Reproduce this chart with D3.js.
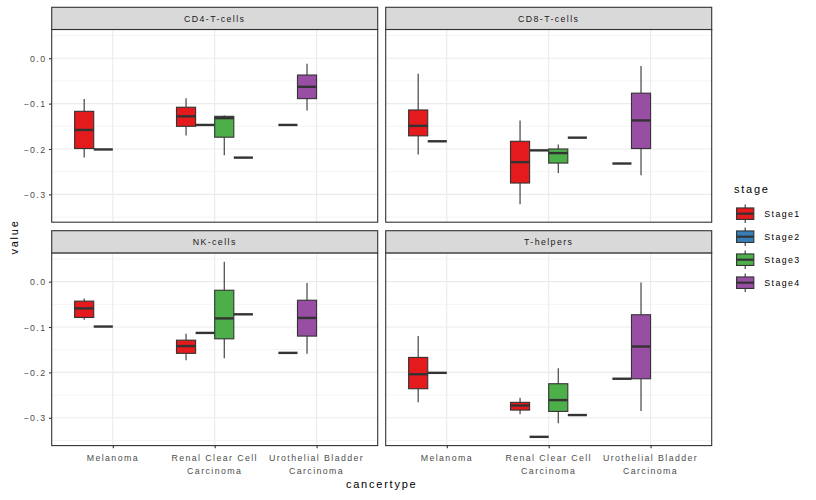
<!DOCTYPE html>
<html>
<head>
<meta charset="utf-8">
<script src="https://cdn.jsdelivr.net/npm/d3@7"></script>
<style>
  html, body { margin: 0; padding: 0; background: #fff; }
  svg { display: block; }
  text { font-family: "Liberation Sans", Arial, Helvetica, sans-serif; }
</style>
</head>
<body>
<svg id="chart" width="816" height="500"></svg>
<script>
// ---------------- data ----------------
const cellTypes = ["CD4-T-cells", "CD8-T-cells", "NK-cells", "T-helpers"];
const cancerTypes = ["Melanoma", "Renal Clear Cell Carcinoma", "Urothelial Bladder Carcinoma"];
const cancerTickLabels = [["Melanoma"], ["Renal Clear Cell", "Carcinoma"], ["Urothelial Bladder", "Carcinoma"]];
const stages = ["Stage1", "Stage2", "Stage3", "Stage4"];
const stageColors = ["#E41A1C", "#377EB8", "#4DAF4A", "#984EA3"];
const yTicks = [0.0, -0.1, -0.2, -0.3];
const yMinorTicks = [0.05, -0.05, -0.15, -0.25, -0.35];

// one entry per box (five-number summary)
const boxCell   = ["CD4-T-cells","CD4-T-cells","CD4-T-cells","CD4-T-cells","CD4-T-cells","CD4-T-cells","CD4-T-cells","CD4-T-cells",
                   "CD8-T-cells","CD8-T-cells","CD8-T-cells","CD8-T-cells","CD8-T-cells","CD8-T-cells","CD8-T-cells","CD8-T-cells",
                   "NK-cells","NK-cells","NK-cells","NK-cells","NK-cells","NK-cells","NK-cells","NK-cells",
                   "T-helpers","T-helpers","T-helpers","T-helpers","T-helpers","T-helpers","T-helpers","T-helpers"];
const boxCancer = ["Melanoma","Melanoma","Renal Clear Cell Carcinoma","Renal Clear Cell Carcinoma","Renal Clear Cell Carcinoma","Renal Clear Cell Carcinoma","Urothelial Bladder Carcinoma","Urothelial Bladder Carcinoma",
                   "Melanoma","Melanoma","Renal Clear Cell Carcinoma","Renal Clear Cell Carcinoma","Renal Clear Cell Carcinoma","Renal Clear Cell Carcinoma","Urothelial Bladder Carcinoma","Urothelial Bladder Carcinoma",
                   "Melanoma","Melanoma","Renal Clear Cell Carcinoma","Renal Clear Cell Carcinoma","Renal Clear Cell Carcinoma","Renal Clear Cell Carcinoma","Urothelial Bladder Carcinoma","Urothelial Bladder Carcinoma",
                   "Melanoma","Melanoma","Renal Clear Cell Carcinoma","Renal Clear Cell Carcinoma","Renal Clear Cell Carcinoma","Renal Clear Cell Carcinoma","Urothelial Bladder Carcinoma","Urothelial Bladder Carcinoma"];
const boxStage  = ["Stage1","Stage2","Stage1","Stage2","Stage3","Stage4","Stage2","Stage4",
                   "Stage1","Stage2","Stage1","Stage2","Stage3","Stage4","Stage2","Stage4",
                   "Stage1","Stage2","Stage1","Stage2","Stage3","Stage4","Stage2","Stage4",
                   "Stage1","Stage2","Stage1","Stage2","Stage3","Stage4","Stage2","Stage4"];
const boxLow    = [-0.219,-0.201,-0.170,-0.147,-0.214,-0.219,-0.147,-0.115,
                   -0.212,-0.183,-0.322,-0.203,-0.253,-0.175,-0.232,-0.258,
                   -0.084,-0.099,-0.173,-0.113,-0.169,-0.072,-0.157,-0.159,
                   -0.266,-0.201,-0.292,-0.342,-0.312,-0.294,-0.214,-0.285];
const boxQ1     = [-0.199,-0.201,-0.150,-0.147,-0.174,-0.219,-0.147,-0.089,
                   -0.171,-0.183,-0.275,-0.203,-0.231,-0.175,-0.232,-0.199,
                   -0.079,-0.099,-0.158,-0.113,-0.126,-0.072,-0.157,-0.120,
                   -0.236,-0.201,-0.283,-0.342,-0.286,-0.294,-0.214,-0.214];
const boxMedian = [-0.158,-0.201,-0.128,-0.147,-0.132,-0.219,-0.147,-0.063,
                   -0.149,-0.183,-0.229,-0.203,-0.209,-0.175,-0.232,-0.137,
                   -0.059,-0.099,-0.142,-0.113,-0.081,-0.072,-0.157,-0.080,
                   -0.204,-0.201,-0.273,-0.342,-0.261,-0.294,-0.214,-0.143];
const boxQ3     = [-0.117,-0.201,-0.108,-0.147,-0.128,-0.219,-0.147,-0.037,
                   -0.114,-0.183,-0.183,-0.203,-0.200,-0.175,-0.232,-0.077,
                   -0.043,-0.099,-0.129,-0.113,-0.019,-0.072,-0.157,-0.041,
                   -0.167,-0.201,-0.266,-0.342,-0.225,-0.294,-0.214,-0.073];
const boxHigh   = [-0.090,-0.201,-0.088,-0.147,-0.126,-0.219,-0.147,-0.012,
                   -0.034,-0.183,-0.137,-0.203,-0.190,-0.175,-0.232,-0.017,
                   -0.037,-0.099,-0.115,-0.113, 0.044,-0.072,-0.157,-0.003,
                   -0.120,-0.201,-0.256,-0.342,-0.191,-0.294,-0.214,-0.002];

// ---------------- layout ----------------
const svg = d3.select("#chart");
const colX = [51.7, 385.7], panelW = 326;
const rowStripTop = [7.3, 230.7], stripH = 22.2, panelH = 192.7;
const ink = "#333333";
const fontStyle = s => s.style("letter-spacing", "0.16em");

const rows = boxCell.map((c, i) => ({
  cell: c, cancer: boxCancer[i], stage: boxStage[i],
  low: boxLow[i], q1: boxQ1[i], med: boxMedian[i], q3: boxQ3[i], high: boxHigh[i]
}));
// slot within a cancer type: rank among stages present there (preserve = single, left-aligned)
rows.forEach(r => {
  const present = rows.filter(o => o.cell === r.cell && o.cancer === r.cancer)
                      .map(o => stages.indexOf(o.stage)).sort((a, b) => a - b);
  r.slot = present.indexOf(stages.indexOf(r.stage));
});
const nSlots = 4;

const allVals = boxLow.concat(boxHigh);
const vMin = d3.min(allVals), vMax = d3.max(allVals), pad = (vMax - vMin) * 0.05;

cellTypes.forEach((cell, pi) => {
  const col = pi % 2, row = Math.floor(pi / 2);
  const x0 = colX[col], stripTop = rowStripTop[row];
  const top = stripTop + stripH, bottom = top + panelH;
  const g = svg.append("g");

  const x = d3.scalePoint().domain(cancerTypes).range([x0, x0 + panelW]).padding(0.6);
  const y = d3.scaleLinear().domain([vMin - pad, vMax + pad]).range([bottom, top]);
  const unit = x.step();
  const groupW = 0.75 * unit, slotW = groupW / nSlots;

  // background grid
  g.selectAll(".minor").data(yMinorTicks.filter(v => y(v) > top && y(v) < bottom)).join("line")
    .attr("x1", x0).attr("x2", x0 + panelW).attr("y1", d => y(d)).attr("y2", d => y(d))
    .attr("stroke", "#EBEBEB").attr("stroke-width", 0.55);
  g.selectAll(".major").data(yTicks).join("line")
    .attr("x1", x0).attr("x2", x0 + panelW).attr("y1", d => y(d)).attr("y2", d => y(d))
    .attr("stroke", "#EBEBEB").attr("stroke-width", 1.1);
  g.selectAll(".vmajor").data(cancerTypes).join("line")
    .attr("x1", d => x(d)).attr("x2", d => x(d)).attr("y1", top).attr("y2", bottom)
    .attr("stroke", "#EBEBEB").attr("stroke-width", 1.1);

  // boxes
  const bg = g.append("g");
  rows.filter(r => r.cell === cell).forEach(r => {
    const left = x(r.cancer) - groupW / 2 + r.slot * slotW;
    const cx = left + slotW / 2;
    const col = stageColors[stages.indexOf(r.stage)];
    bg.append("line").attr("x1", cx).attr("x2", cx).attr("y1", y(r.high)).attr("y2", y(r.q3))
      .attr("stroke", ink).attr("stroke-width", 1.1);
    bg.append("line").attr("x1", cx).attr("x2", cx).attr("y1", y(r.q1)).attr("y2", y(r.low))
      .attr("stroke", ink).attr("stroke-width", 1.1);
    bg.append("rect").attr("x", left).attr("y", y(r.q3)).attr("width", slotW)
      .attr("height", Math.max(0, y(r.q1) - y(r.q3)))
      .attr("fill", col).attr("stroke", ink).attr("stroke-width", 1.1);
    bg.append("line").attr("x1", left).attr("x2", left + slotW).attr("y1", y(r.med)).attr("y2", y(r.med))
      .attr("stroke", ink).attr("stroke-width", 2.4);
  });

  // panel border
  g.append("rect").attr("x", x0).attr("y", top).attr("width", panelW).attr("height", panelH)
    .attr("fill", "none").attr("stroke", ink).attr("stroke-width", 1.1);
  // strip
  g.append("rect").attr("x", x0).attr("y", stripTop).attr("width", panelW).attr("height", stripH)
    .attr("fill", "#D9D9D9").attr("stroke", ink).attr("stroke-width", 1.1);
  g.append("text").attr("x", x0 + panelW / 2).attr("y", stripTop + stripH / 2 + 3.2)
    .attr("text-anchor", "middle").attr("font-size", 8.8).attr("fill", "#1A1A1A")
    .text(cell).call(fontStyle);

  // y axis (left column)
  if (col === 0) {
    const ya = d3.axisLeft(y).tickValues(yTicks).tickFormat(d3.format(".1f")).tickSize(2.75).tickPadding(2.5);
    const ag = g.append("g").attr("transform", `translate(${x0},0)`).call(ya);
    ag.select(".domain").remove();
    ag.selectAll("line").attr("stroke", ink).attr("stroke-width", 1.1);
    ag.selectAll("text").attr("fill", "#4D4D4D").attr("font-size", 8.8)
      .attr("font-family", "'Liberation Sans', Arial, sans-serif").call(fontStyle).attr("dy", "0.36em");
  }
  // x axis (bottom row)
  if (row === 1) {
    const xa = d3.axisBottom(x).tickSize(2.75).tickFormat("");
    const ag = g.append("g").attr("transform", `translate(0,${bottom})`).call(xa);
    ag.select(".domain").remove();
    ag.selectAll("line").attr("stroke", ink).attr("stroke-width", 1.1);
    cancerTypes.forEach((c, ci) => {
      const t = g.append("text").attr("text-anchor", "middle").attr("font-size", 8.8)
        .attr("fill", "#4D4D4D").call(fontStyle);
      cancerTickLabels[ci].forEach((line, li) => {
        t.append("tspan").attr("x", x(c)).attr("y", bottom + 15 + li * 13.3).text(line);
      });
    });
  }
});

// axis titles
svg.append("text").attr("x", (colX[0] + colX[1] + panelW) / 2).attr("y", 488)
  .attr("text-anchor", "middle").attr("font-size", 11).attr("fill", "#000").text("cancertype").call(fontStyle);
svg.append("text").attr("transform", "translate(18.3,237) rotate(-90)")
  .attr("text-anchor", "middle").attr("font-size", 11).attr("fill", "#000").text("value").call(fontStyle);

// legend
const lg = svg.append("g");
lg.append("text").attr("x", 734).attr("y", 192.7).attr("font-size", 11).attr("fill", "#000").text("stage").call(fontStyle);
const keySize = 23, keyX = 733.7, keyTop = 202.2;
stages.forEach((s, i) => {
  const ky = keyTop + i * keySize;
  const k = lg.append("g");
  const cx = keyX + keySize / 2;
  k.append("line").attr("x1", cx).attr("x2", cx).attr("y1", ky + 0.1 * keySize).attr("y2", ky + 0.25 * keySize)
    .attr("stroke", ink).attr("stroke-width", 1.1);
  k.append("line").attr("x1", cx).attr("x2", cx).attr("y1", ky + 0.75 * keySize).attr("y2", ky + 0.9 * keySize)
    .attr("stroke", ink).attr("stroke-width", 1.1);
  k.append("rect").attr("x", keyX + 0.125 * keySize).attr("y", ky + 0.25 * keySize)
    .attr("width", 0.75 * keySize).attr("height", 0.5 * keySize)
    .attr("fill", stageColors[i]).attr("stroke", ink).attr("stroke-width", 1.1);
  k.append("line").attr("x1", keyX + 0.125 * keySize).attr("x2", keyX + 0.875 * keySize)
    .attr("y1", ky + 0.5 * keySize).attr("y2", ky + 0.5 * keySize)
    .attr("stroke", ink).attr("stroke-width", 2.2);
  lg.append("text").attr("x", 764.3).attr("y", ky + keySize / 2 + 3.2).attr("font-size", 8.8)
    .attr("fill", "#000").text(s).call(fontStyle);
});
</script>
</body>
</html>
